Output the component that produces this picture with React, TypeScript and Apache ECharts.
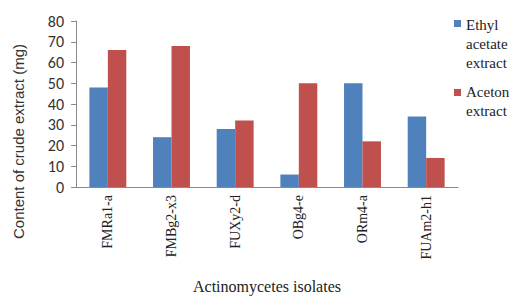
import React, { useEffect, useRef } from "react";
import * as echarts from "echarts";

const categories = ["FMRa1-a", "FMBg2-x3", "FUXy2-d", "OBg4-e", "ORm4-a", "FUAm2-h1"];
const ethylAcetate = [48, 24, 28, 6, 50, 34];
const aceton = [66, 68, 32, 50, 22, 14];
const seriesNames = ["Ethyl acetate extract", "Aceton extract"];
const legendLabels = ["Ethyl\nacetate\nextract", "Aceton\nextract"];
const yTicks = [0, 10, 20, 30, 40, 50, 60, 70, 80];

const BLUE = "#4F81BD";
const RED = "#C0504D";
const SERIF = "Liberation Serif";
const SANS = "Carlito, Lato, sans-serif";

export default function App() {
  const ref = useRef<HTMLDivElement>(null);
  useEffect(() => {
    if (!ref.current) return;
    const chart = echarts.init(ref.current, undefined, { renderer: "svg" });
    chart.setOption({
      animation: false,
      backgroundColor: "#ffffff",
      grid: { left: 76, top: 21, width: 382, height: 167, containLabel: false },
      legend: {
        orient: "vertical",
        left: 461,
        top: 15,
        padding: 0,
        icon: "none",
        itemWidth: 0,
        itemHeight: 7,
        itemGap: 10,
        selectedMode: false,
        data: seriesNames,
        formatter: (name: string) => legendLabels[seriesNames.indexOf(name)],
        textStyle: { fontFamily: SERIF, fontSize: 15, lineHeight: 19, color: "#222" },
      },
      xAxis: {
        type: "category",
        data: categories,
        name: "Actinomycetes isolates",
        nameLocation: "middle",
        nameGap: 91,
        nameTextStyle: { fontFamily: SERIF, fontSize: 16, color: "#222" },
        axisLine: { lineStyle: { color: "#8a8a8a", width: 1 } },
        axisTick: { show: false },
        axisLabel: {
          rotate: 90,
          interval: 0,
          margin: 8,
          fontFamily: SERIF,
          fontSize: 14,
          color: "#222",
        },
      },
      yAxis: {
        type: "value",
        min: yTicks[0],
        max: yTicks[yTicks.length - 1],
        interval: 10,
        name: "Content of crude extract (mg)",
        nameLocation: "middle",
        nameGap: 50,
        nameTextStyle: {
          fontFamily: "Liberation Sans",
          fontSize: 15,
          color: "#333",
          padding: [0, 75, 0, 0],
        },
        axisLine: { show: true, lineStyle: { color: "#8a8a8a", width: 1 } },
        axisTick: { show: true, length: 5, lineStyle: { color: "#8a8a8a" } },
        splitLine: { show: false },
        axisLabel: { margin: 12, fontFamily: SANS, fontSize: 16, color: "#333" },
      },
      series: [
        {
          name: seriesNames[0],
          type: "bar",
          data: ethylAcetate,
          itemStyle: { color: BLUE },
          barGap: "0%",
          barCategoryGap: "42%",
        },
        {
          name: seriesNames[1],
          type: "bar",
          data: aceton,
          itemStyle: { color: RED },
          barGap: "0%",
          barCategoryGap: "42%",
        },
      ],
      graphic: [
        { type: "rect", shape: { x: 454, y: 20, width: 7, height: 7 }, style: { fill: BLUE } },
        { type: "rect", shape: { x: 454, y: 89, width: 7, height: 7 }, style: { fill: RED } },
      ],
    });
    return () => chart.dispose();
  }, []);
  return (
    <div
      ref={ref}
      style={{ position: "fixed", left: 0, top: 0, width: 516, height: 299 }}
    />
  );
}
